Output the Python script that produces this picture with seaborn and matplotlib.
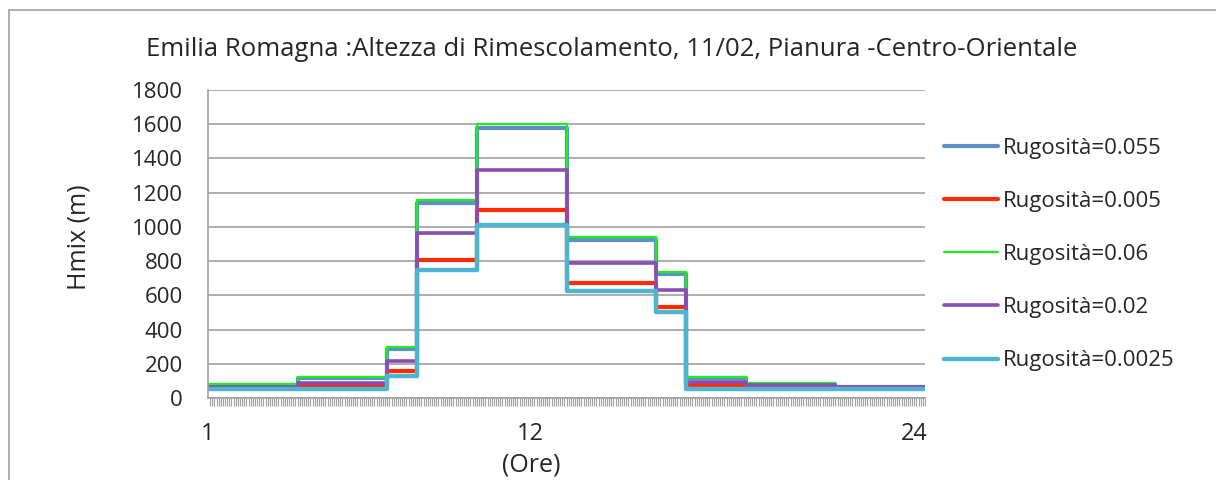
import numpy as np
import pandas as pd
import matplotlib
matplotlib.use("Agg")
import matplotlib.pyplot as plt
import seaborn as sns
from matplotlib.lines import Line2D

# hourly mixing height (m), one value per hour, 24 hours
ore = list(range(24))
rug_0055 = [75, 75, 75, 115, 115, 115, 286, 1140, 1140, 1580, 1580, 1580,
            925, 925, 925, 725, 115, 115, 82, 82, 82, 63, 63, 63]
rug_0005 = [60, 60, 60, 75, 75, 75, 157, 806, 806, 1100, 1100, 1100,
            671, 671, 671, 529, 75, 75, 65, 65, 65, 58, 58, 58]
rug_006 = [80, 80, 80, 120, 120, 120, 298, 1159, 1159, 1600, 1600, 1600,
           941, 941, 941, 735, 122, 122, 88, 88, 88, 67, 67, 67]
rug_002 = [65, 65, 65, 90, 90, 90, 216, 967, 967, 1333, 1333, 1333,
           790, 790, 790, 629, 95, 95, 75, 75, 75, 62, 62, 62]
rug_00025 = [55, 55, 55, 55, 55, 55, 129, 747, 747, 1012, 1012, 1012,
             624, 624, 624, 502, 55, 55, 55, 55, 55, 55, 55, 55]

series_names = ["Rugosità=0.055", "Rugosità=0.005", "Rugosità=0.06",
                "Rugosità=0.02", "Rugosità=0.0025"]
series_vals = [rug_0055, rug_0005, rug_006, rug_002, rug_00025]
colors = ["#5E8FC9", "#FF2A00", "#1AF01A", "#8A4DB6", "#4DB5D0"]
widths = [3.0, 3.0, 1.6, 2.6, 3.2]

x_tick_pos = [0, 10.8, 23.65]
x_tick_lab = ["1", "12", "24"]

# long table, last hour repeated so the step reaches the axis end
rows = []
for name, vals in zip(series_names, series_vals):
    for h, v in zip(ore + [24], vals + [vals[-1]]):
        rows.append({"Ora": h, "Hmix": v, "Serie": name})
df = pd.DataFrame(rows)

sns.set_style("white")
plt.rcParams["font.family"] = ["Open Sans", "DejaVu Sans"]

fig = plt.figure(figsize=(12.16, 4.8), dpi=100)
ax = fig.add_axes([208 / 1216, 1 - 398 / 480, (925 - 208) / 1216, (398 - 90) / 480])

for name, col, lw in zip(series_names, colors, widths):
    sns.lineplot(data=df[df["Serie"] == name], x="Ora", y="Hmix", ax=ax,
                 color=col, linewidth=lw, drawstyle="steps-post", label=name,
                 solid_capstyle="round")

gray = "#A0A0A0"
ax.set_xlim(0, 24)
ax.set_ylim(0, 1800)
ax.set_yticks(range(0, 1801, 200))
ax.set_xticks(x_tick_pos)
ax.set_xticklabels(x_tick_lab)
ax.set_xticks(np.linspace(0, 24, 337), minor=True)
ax.grid(axis="y", color=gray, linewidth=1.2)
ax.set_axisbelow(True)
for s in ["top", "right"]:
    ax.spines[s].set_visible(False)
for s in ["left", "bottom"]:
    ax.spines[s].set_color(gray)
    ax.spines[s].set_linewidth(1.2)
ax.tick_params(axis="y", length=5, width=1.2, color=gray, pad=13, labelsize=16)
ax.tick_params(axis="x", which="both", length=6, width=0.8, color=gray,
               direction="out", bottom=True)
ax.tick_params(axis="x", which="major", pad=17, labelsize=17, length=0)
ax.set_xlabel("")
ax.set_ylabel("")

fig.text(612 / 1216, 1 - 49 / 480,
         "Emilia Romagna :Altezza di Rimescolamento, 11/02, Pianura -Centro-Orientale",
         ha="center", va="center", fontsize=18.5)
fig.text(79 / 1216, 1 - 237 / 480, "Hmix (m)", rotation=90,
         ha="center", va="center", fontsize=18)
fig.text(531 / 1216, 1 - 465 / 480, "(Ore)", ha="center", va="center", fontsize=18)

leg = ax.legend(loc="center left", bbox_to_anchor=(944 / 1216, 1 - 254.5 / 480),
                bbox_transform=fig.transFigure, frameon=False, fontsize=16,
                handlelength=2.45, handletextpad=0.2, labelspacing=1.45,
                borderpad=0, borderaxespad=0)

# chart border
fig.add_artist(Line2D([9 / 1216, 9 / 1216], [0, 1 - 10 / 480], color=gray,
                      linewidth=1.2, transform=fig.transFigure))
fig.add_artist(Line2D([9 / 1216, 1], [1 - 10 / 480, 1 - 10 / 480], color=gray,
                      linewidth=1.2, transform=fig.transFigure))

fig.savefig("out.png", dpi=100)
